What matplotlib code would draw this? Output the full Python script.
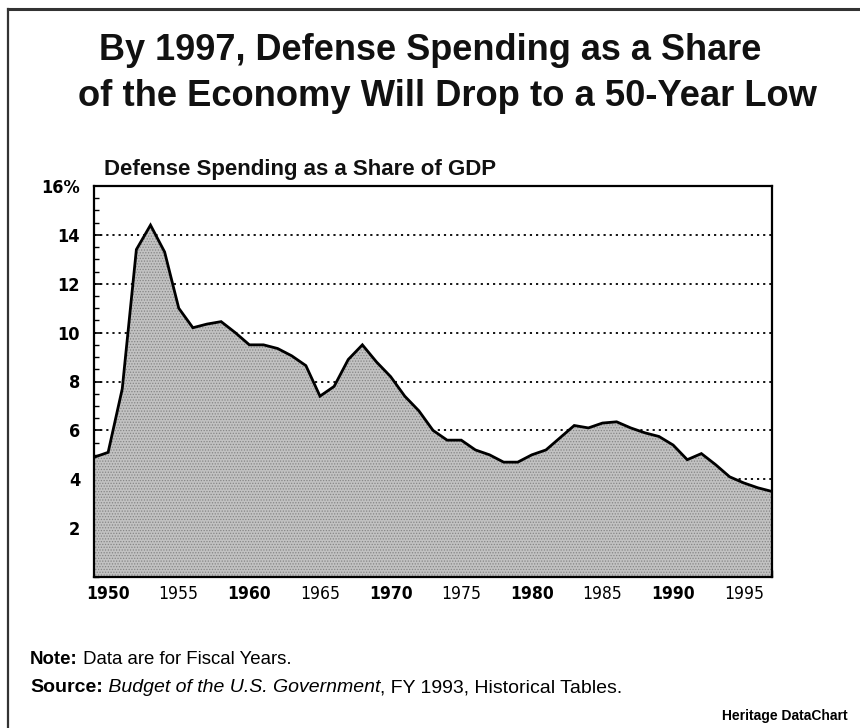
import matplotlib
matplotlib.use("Agg")
import matplotlib.pyplot as plt
from matplotlib.ticker import MultipleLocator, FixedLocator
from matplotlib.lines import Line2D

# ---------------- data ----------------
years = list(range(1949, 1998))
defense_share = [
    4.9, 5.1, 7.7, 13.4, 14.4, 13.3, 11.0, 10.2, 10.35, 10.45,   # 1949-1958
    10.0, 9.5, 9.5, 9.35, 9.05, 8.65, 7.4, 7.8, 8.9, 9.5,        # 1959-1968
    8.8, 8.2, 7.4, 6.8, 6.0, 5.6, 5.6, 5.2, 5.0, 4.7,            # 1969-1978
    4.7, 5.0, 5.2, 5.7, 6.2, 6.1, 6.3, 6.35, 6.1, 5.9,           # 1979-1988
    5.75, 5.4, 4.8, 5.05, 4.6, 4.1, 3.85, 3.65, 3.5,             # 1989-1997
]
x_ticks = [1950, 1955, 1960, 1965, 1970, 1975, 1980, 1985, 1990, 1995]
y_ticks = [2, 4, 6, 8, 10, 12, 14, 16]
y_tick_labels = ["2", "4", "6", "8", "10", "12", "14", "16%"]
grid_levels = [4, 6, 8, 10, 12, 14]

title_line1 = "By 1997, Defense Spending as a Share"
title_line2 = "of the Economy Will Drop to a 50-Year Low"
subtitle = "Defense Spending as a Share of GDP"

# ---------------- fonts ----------------
plt.rcParams["font.family"] = ["Liberation Sans", "DejaVu Sans"]
plt.rcParams["hatch.linewidth"] = 0.6

W, H = 860, 728
fig = plt.figure(figsize=(W / 100, H / 100), dpi=100)

# axes position in pixels
L, R, T, B = 94, 772, 186, 577
ax = fig.add_axes([L / W, 1 - B / H, (R - L) / W, (B - T) / H])

# grid lines (behind the area)
for g in grid_levels:
    ax.axhline(g, color="black", lw=1.3, ls=(0, (1.2, 2.2)), zorder=1)

ax.fill_between(years, 0, defense_share, facecolor="#c2c2c2",
                edgecolor="#858585", hatch="......", linewidth=0, zorder=2)
ax.plot(years, defense_share, color="black", lw=2.0, zorder=3,
        solid_joinstyle="miter")

ax.set_xlim(1949, 1997)
ax.set_ylim(0, 16)

ax.xaxis.set_major_locator(FixedLocator(x_ticks))
ax.xaxis.set_minor_locator(MultipleLocator(1))
ax.yaxis.set_major_locator(FixedLocator(y_ticks))
ax.yaxis.set_minor_locator(MultipleLocator(0.5))

ax.set_xticklabels([str(v) for v in x_ticks])
ax.set_yticklabels(y_tick_labels)

ax.tick_params(axis="x", which="major", direction="in", length=8, width=1.6,
               pad=6, labelsize=12.5, top=False)
ax.tick_params(axis="x", which="minor", direction="in", length=5, width=1.0,
               top=False)
ax.tick_params(axis="y", which="major", direction="in", length=5, width=1.2,
               pad=10, labelsize=13, right=False)
ax.tick_params(axis="y", which="minor", direction="in", length=3.5, width=1.0,
               right=False)

for i, lab in enumerate(ax.get_xticklabels()):
    lab.set_family(["DejaVu Sans"])
    lab.set_fontstretch("condensed")
    lab.set_fontweight("bold" if i % 2 == 0 else "normal")
for lab in ax.get_yticklabels():
    lab.set_family(["DejaVu Sans"])
    lab.set_fontstretch("condensed")
    lab.set_fontweight("bold")

for sp in ax.spines.values():
    sp.set_linewidth(1.6)
    sp.set_color("black")
    sp.set_zorder(5)

# ---------------- titles ----------------
fig.text(430 / W, 1 - 50 / H, title_line1, ha="center", va="center",
         fontsize=26, fontweight="bold", color="#111111")
fig.text(447 / W, 1 - 96 / H, title_line2, ha="center", va="center",
         fontsize=26.2, fontweight="bold", color="#111111")
fig.text(104 / W, 1 - 170 / H, subtitle, ha="left", va="center",
         fontsize=16, fontweight="bold", color="#111111")

# ---------------- notes ----------------
def chain_text(pieces, x0, y0, size):
    t = fig.text(x0 / W, 1 - y0 / H, pieces[0][0], ha="left", va="center",
                 fontsize=size, **pieces[0][1])
    for txt, kw in pieces[1:]:
        t = plt.annotate(txt, xy=(1, 0), xycoords=t, ha="left", va="bottom",
                         fontsize=size, annotation_clip=False, **kw)
    return t

chain_text([("Note:", dict(fontweight="bold")),
            (" Data are for Fiscal Years.", dict())], 30, 659, 13.4)
chain_text([("Source:", dict(fontweight="bold")),
            (" Budget of the U.S. Government", dict(style="italic")),
            (", FY 1993, Historical Tables.", dict())], 30, 688, 14)
fig.text(848 / W, 1 - 716 / H, "Heritage DataChart", ha="right",
         va="center", fontsize=10, fontweight="bold")

# ---------------- page frame ----------------
fig.add_artist(Line2D([8 / W, 1.0], [1 - 9 / H, 1 - 9 / H],
                      transform=fig.transFigure, color="#333333", lw=2.2))
fig.add_artist(Line2D([8 / W, 8 / W], [1 - 9 / H, 0.0],
                      transform=fig.transFigure, color="#333333", lw=1.6))

fig.savefig("out.png", dpi=100)
